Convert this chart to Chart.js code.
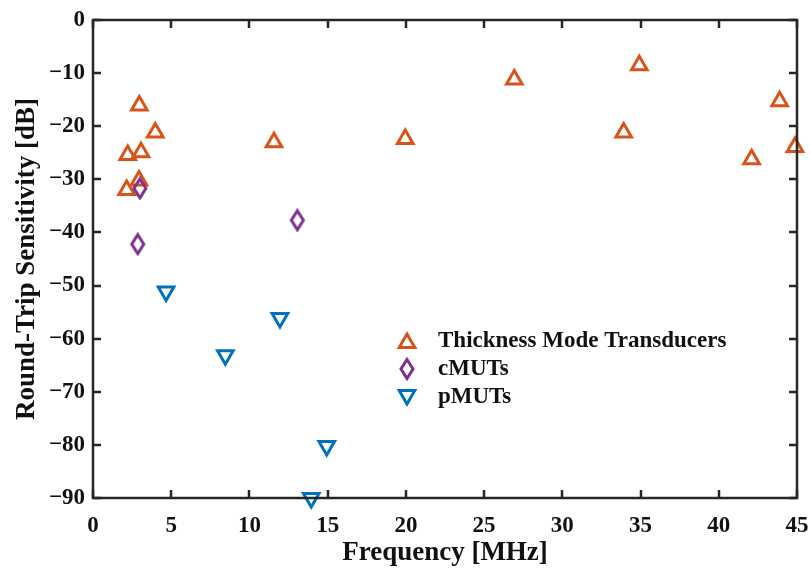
<!DOCTYPE html>
<html><head><meta charset="utf-8">
<script src="https://cdn.jsdelivr.net/npm/chart.js@4.4.0/dist/chart.umd.min.js"></script>
<style>html,body{margin:0;padding:0;background:#fff}</style>
</head><body>
<canvas id="c" width="810" height="570"></canvas>
<script>
// ---- data ----
const seriesNames = ['Thickness Mode Transducers', 'cMUTs', 'pMUTs'];
const thicknessFreq = [2.96, 3.98, 2.22, 3.07, 2.94, 2.15, 11.57, 19.96, 26.93, 33.92, 34.92, 42.10, 43.89, 44.87];
const thicknessSens = [-16.1, -21.2, -25.4, -24.9, -30.2, -32.0, -23.0, -22.4, -11.2, -21.2, -8.5, -26.2, -15.3, -23.9];
const cmutFreq = [3.00, 2.86, 13.06];
const cmutSens = [-31.7, -42.2, -37.7];
const pmutFreq = [4.67, 8.46, 11.95, 14.94, 13.95];
const pmutSens = [-51.1, -63.1, -56.1, -80.2, -90.0];
const xTicks = [0, 5, 10, 15, 20, 25, 30, 35, 40, 45];
const yTicks = [0, -10, -20, -30, -40, -50, -60, -70, -80, -90];

// ---- styles ----
const ORANGE = '#D95319', PURPLE = '#7E2F8E', BLUE = '#0072BD', AXC = '#262626';
const FONT = "'Liberation Serif', 'Times New Roman', serif";
const MR = 9, MW = 3;

function makeDiamond(color) {
  const c = document.createElement('canvas');
  c.width = 18; c.height = 24;
  const g = c.getContext('2d');
  g.strokeStyle = color; g.lineWidth = 3; g.lineJoin = 'miter';
  g.beginPath();
  g.moveTo(9, 2.5); g.lineTo(15, 12); g.lineTo(9, 21.5); g.lineTo(3, 12); g.closePath();
  g.stroke();
  return c;
}
const diamondImg = makeDiamond(PURPLE);

const toPts = (xs, ys) => xs.map((v, i) => ({x: v, y: ys[i]}));

const framePlugin = {
  id: 'frame',
  afterDatasetsDraw(chart) {
    const {ctx, chartArea: a, scales: {x, y}} = chart;
    ctx.save();
    ctx.strokeStyle = AXC; ctx.lineWidth = 2.5; ctx.lineCap = 'butt';
    ctx.beginPath();
    xTicks.forEach(v => {
      const px = Math.round(x.getPixelForValue(v));
      ctx.moveTo(px, a.bottom); ctx.lineTo(px, a.bottom - 8);
      ctx.moveTo(px, a.top); ctx.lineTo(px, a.top + 8);
    });
    yTicks.forEach(v => {
      const py = Math.round(y.getPixelForValue(v));
      ctx.moveTo(a.left, py); ctx.lineTo(a.left + 8, py);
      ctx.moveTo(a.right, py); ctx.lineTo(a.right - 8, py);
    });
    ctx.stroke();
    ctx.beginPath();
    ctx.rect(a.left, a.top, a.right - a.left, a.bottom - a.top);
    ctx.stroke();
    ctx.restore();
  }
};

function tri(ctx, x, y, r, down) {
  ctx.beginPath();
  for (let k = 0; k < 3; k++) {
    const ang = (down ? Math.PI : 0) + k * 2 * Math.PI / 3;
    const px = x + Math.sin(ang) * r, py = y - Math.cos(ang) * r;
    if (k === 0) ctx.moveTo(px, py); else ctx.lineTo(px, py);
  }
  ctx.closePath();
}

const legendPlugin = {
  id: 'innerLegend',
  afterDraw(chart) {
    const {ctx} = chart;
    const mx = 407, tx = 438, rows = [341, 369, 397];
    ctx.save();
    ctx.lineWidth = MW; ctx.lineJoin = 'miter';
    ctx.strokeStyle = ORANGE; ctx.fillStyle = '#fff';
    tri(ctx, mx, rows[0] + 2, MR, false); ctx.fill(); ctx.stroke();
    ctx.drawImage(diamondImg, mx - 9, rows[1] - 12);
    ctx.strokeStyle = BLUE;
    tri(ctx, mx, rows[2] - 2, MR, true); ctx.fill(); ctx.stroke();
    ctx.fillStyle = '#111';
    ctx.font = 'bold 23px ' + FONT;
    ctx.textAlign = 'left'; ctx.textBaseline = 'middle';
    seriesNames.forEach((n, i) => ctx.fillText(n, tx, rows[i]));
    ctx.restore();
  }
};

new Chart(document.getElementById('c'), {
  type: 'scatter',
  data: {
    datasets: [
      {label: seriesNames[0], data: toPts(thicknessFreq, thicknessSens), pointStyle: 'triangle',
       pointRadius: MR, pointHoverRadius: MR, borderColor: ORANGE, backgroundColor: '#fff', borderWidth: MW, order: 3, clip: false},
      {label: seriesNames[1], data: toPts(cmutFreq, cmutSens), pointStyle: diamondImg,
       pointRadius: MR, borderColor: PURPLE, backgroundColor: 'rgba(0,0,0,0)', borderWidth: MW, order: 2, clip: false},
      {label: seriesNames[2], data: toPts(pmutFreq, pmutSens), pointStyle: 'triangle', rotation: 180,
       pointRadius: MR, pointHoverRadius: MR, borderColor: BLUE, backgroundColor: '#fff', borderWidth: MW, order: 1, clip: false}
    ]
  },
  options: {
    responsive: false, animation: false, devicePixelRatio: 1,
    layout: {padding: {left: 0, right: 13, top: 20, bottom: 0}},
    plugins: {legend: {display: false}, tooltip: {enabled: false}},
    scales: {
      x: {
        type: 'linear', min: 0, max: 45,
        afterBuildTicks: s => { s.ticks = xTicks.map(v => ({value: v})); },
        ticks: {color: '#111', font: {family: FONT, size: 23, weight: 'bold'}, padding: 6, maxRotation: 0,
                callback: v => String(v)},
        grid: {display: false}, border: {display: false},
        title: {display: true, text: 'Frequency [MHz]', color: '#111',
                font: {family: FONT, size: 27, weight: 'bold', lineHeight: 1}, padding: {top: 0, bottom: 3}},
        afterFit: s => { s.height = 72; s.paddingLeft = 0; s.paddingRight = 13; }
      },
      y: {
        type: 'linear', min: -90, max: 0,
        afterBuildTicks: s => { s.ticks = yTicks.map(v => ({value: v})); },
        ticks: {color: '#111', font: {family: FONT, size: 23, weight: 'bold'}, padding: 0,
                callback: v => String(v).replace('-', '\u2212')},
        grid: {display: false}, border: {display: false},
        title: {display: true, text: 'Round-Trip Sensitivity [dB]', color: '#111',
                font: {family: FONT, size: 27, weight: 'bold', lineHeight: 1}, padding: {top: 14, bottom: 0}},
        afterFit: s => { s.width = 93; s.paddingTop = 20; s.paddingBottom = 0; }
      }
    }
  },
  plugins: [framePlugin, legendPlugin]
});
</script>
</body></html>
